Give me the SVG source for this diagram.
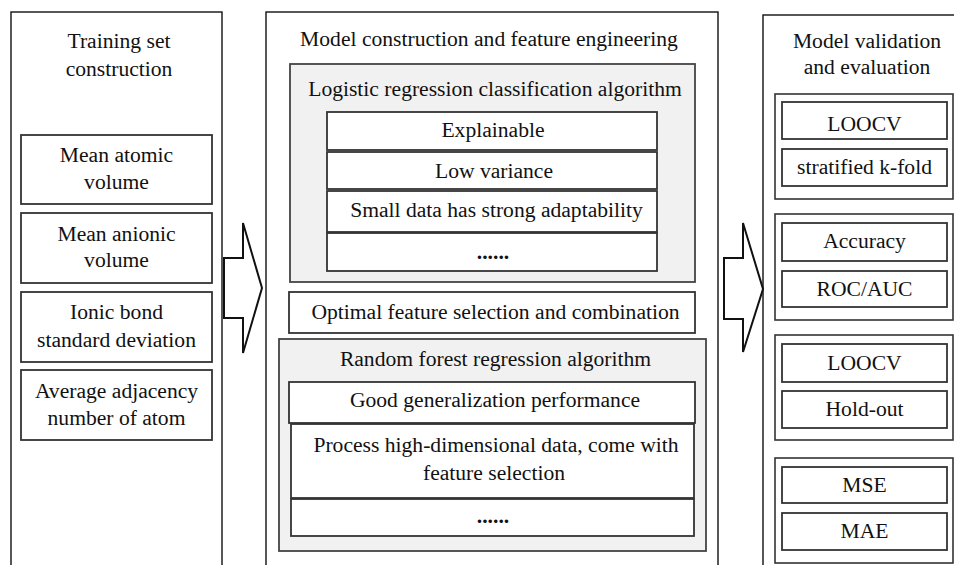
<svg xmlns="http://www.w3.org/2000/svg" width="954" height="565" viewBox="0 0 954 565">
<style>
text{font-family:"Liberation Serif","Times New Roman",serif;font-size:21.6px;fill:#111;text-anchor:middle}
.panel{fill:#fff;stroke:#111;stroke-width:1.4}
.gray{fill:#f1f1f1;stroke:#444;stroke-width:1.8}
.box{fill:#fff;stroke:#333;stroke-width:1.8}
.grp{fill:#fff;stroke:#333;stroke-width:1.6}
.dots{font-weight:bold}
.arrow{fill:#fff;stroke:#111;stroke-width:2;stroke-linejoin:miter}
</style>
<rect width="954" height="565" fill="#fff"/>

<g id="panel-training">
<rect class="panel" x="11" y="12" width="211" height="570"/>
<text x="119" y="48">Training set</text>
<text x="119" y="76">construction</text>
</g>
<g id="node-mean-atomic">
<rect class="box" x="21" y="135" width="191" height="69"/>
<text x="116.5" y="162">Mean atomic</text>
<text x="116.5" y="189">volume</text>
</g>
<g id="node-mean-anionic">
<rect class="box" x="21" y="213" width="191" height="70"/>
<text x="116.5" y="241">Mean anionic</text>
<text x="116.5" y="267">volume</text>
</g>
<g id="node-ionic-bond">
<rect class="box" x="21" y="292" width="191" height="70"/>
<text x="116.5" y="319">Ionic bond</text>
<text x="116.5" y="347">standard deviation</text>
</g>
<g id="node-adjacency">
<rect class="box" x="21" y="370" width="191" height="70"/>
<text x="116.5" y="398">Average adjacency</text>
<text x="116.5" y="425">number of atom</text>
</g>

<g id="panel-model">
<rect class="panel" x="266" y="12" width="452" height="570"/>
<text x="489" y="46">Model construction and feature engineering</text>
</g>
<g id="node-logistic">
<rect class="gray" x="290" y="64" width="405" height="218"/>
<text x="495" y="96">Logistic regression classification algorithm</text>
</g>
<g id="node-explainable">
<rect class="box" x="327" y="112" width="330" height="38"/>
<text x="493" y="137">Explainable</text>
</g>
<g id="node-low-variance">
<rect class="box" x="327" y="152" width="330" height="37"/>
<text x="494" y="178">Low variance</text>
</g>
<g id="node-small-data">
<rect class="box" x="327" y="191" width="330" height="41"/>
<text x="496.5" y="217">Small data has strong adaptability</text>
</g>
<g id="node-lr-more">
<rect class="box" x="327" y="233" width="330" height="38"/>
<text class="dots" x="493" y="259">......</text>
</g>
<g id="node-optimal">
<rect class="box" x="289" y="292" width="406" height="41"/>
<text x="495.5" y="318.5">Optimal feature selection and combination</text>
</g>
<g id="node-random-forest">
<rect class="gray" x="279" y="339" width="427" height="212"/>
<text x="495.5" y="366">Random forest regression algorithm</text>
</g>
<g id="node-generalization">
<rect class="box" x="289" y="382" width="406" height="41"/>
<text x="495" y="407">Good generalization performance</text>
</g>
<g id="node-high-dim">
<rect class="box" x="291" y="424" width="403" height="74"/>
<text x="496" y="452">Process high-dimensional data, come with</text>
<text x="494" y="480">feature selection</text>
</g>
<g id="node-rf-more">
<rect class="box" x="291" y="499" width="403" height="37"/>
<text class="dots" x="493" y="523">......</text>
</g>

<g id="panel-validation">
<rect class="panel" x="763" y="15" width="208" height="570"/>
<text x="867" y="48">Model validation</text>
<text x="867" y="74">and evaluation</text>
</g>
<g id="group-1">
<rect class="grp" x="775" y="94" width="178" height="105"/>
</g>
<g id="node-loocv-1">
<rect class="box" x="782" y="102" width="165" height="37"/>
<text x="864.5" y="131">LOOCV</text>
</g>
<g id="node-stratified">
<rect class="box" x="782" y="149" width="165" height="37"/>
<text x="864.5" y="174">stratified k-fold</text>
</g>
<g id="group-2">
<rect class="grp" x="775" y="214" width="178" height="106"/>
</g>
<g id="node-accuracy">
<rect class="box" x="782" y="223" width="165" height="38"/>
<text x="864.5" y="248">Accuracy</text>
</g>
<g id="node-roc">
<rect class="box" x="782" y="271" width="165" height="36"/>
<text x="864.5" y="296">ROC/AUC</text>
</g>
<g id="group-3">
<rect class="grp" x="775" y="335" width="178" height="105"/>
</g>
<g id="node-loocv-2">
<rect class="box" x="782" y="344" width="165" height="38"/>
<text x="864.5" y="370">LOOCV</text>
</g>
<g id="node-holdout">
<rect class="box" x="782" y="391" width="165" height="37"/>
<text x="864.5" y="416">Hold-out</text>
</g>
<g id="group-4">
<rect class="grp" x="775" y="458" width="178" height="105"/>
</g>
<g id="node-mse">
<rect class="box" x="782" y="467" width="165" height="36"/>
<text x="864.5" y="492">MSE</text>
</g>
<g id="node-mae">
<rect class="box" x="782" y="513" width="165" height="37"/>
<text x="864.5" y="538">MAE</text>
</g>

<g id="connectors">
<polygon class="arrow" points="224,258 243,258 243,223 262,288 243,353 243,318 224,318"/>
<polygon class="arrow" points="724,258 743,258 743,223 763,289 743,352 743,319 724,319"/>
</g>
</svg>
